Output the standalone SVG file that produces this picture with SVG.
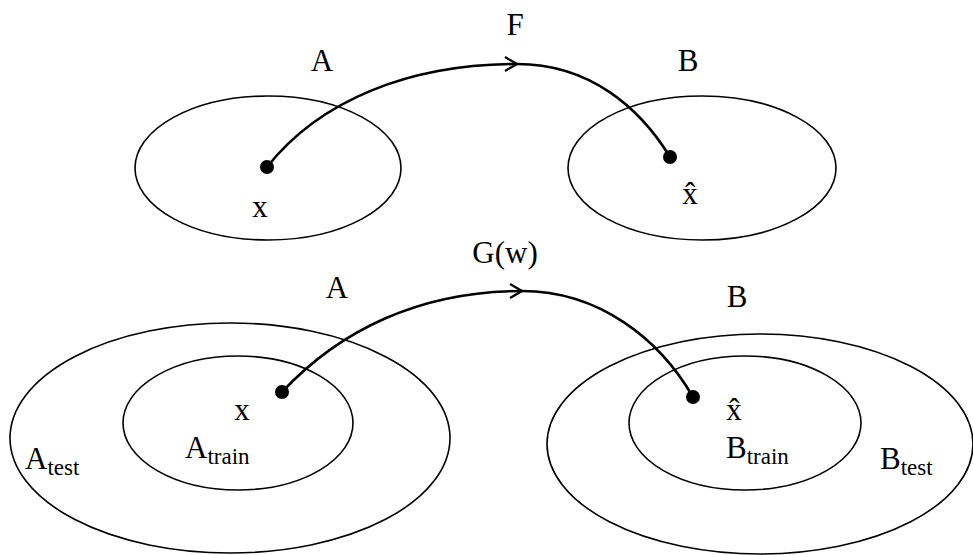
<svg xmlns="http://www.w3.org/2000/svg" width="973" height="555" viewBox="0 0 973 555">
  <style>
    .set { fill: none; stroke: #000; stroke-width: 1.6; }
    .map { fill: none; stroke: #000; stroke-width: 2.6; }
    .pt { fill: #000; }
    text { font-family: "Liberation Serif", "DejaVu Serif", serif; font-size: 31px; fill: #000; }
    .sub { font-size: 23px; }
  </style>
  <defs>
    <marker id="chev" viewBox="0 0 14 16" refX="13" refY="8" markerWidth="14" markerHeight="16" markerUnits="userSpaceOnUse" orient="auto">
      <path d="M1,1 L13,8 L1,15" fill="none" stroke="#000" stroke-width="2.2"/>
    </marker>
  </defs>

  <!-- top: plain mapping F from A to B -->
  <g id="setA-top">
    <ellipse class="set" cx="268" cy="168" rx="133" ry="72"/>
    <text x="322" y="71" text-anchor="middle">A</text>
  </g>
  <g id="setB-top">
    <ellipse class="set" cx="702" cy="168" rx="134" ry="72"/>
    <text x="688" y="71" text-anchor="middle">B</text>
  </g>
  <g id="x-top">
    <circle class="pt" cx="267" cy="167" r="7"/>
    <text x="260" y="217" text-anchor="middle">x</text>
  </g>
  <g id="xhat-top">
    <circle class="pt" cx="670" cy="157" r="7"/>
    <text x="690" y="204" text-anchor="middle">x̂</text>
  </g>

  <!-- bottom: learned mapping G(w) with train/test subsets -->
  <g id="setA-bottom">
    <ellipse class="set" cx="230" cy="438" rx="220" ry="115"/>
    <text x="337" y="298" text-anchor="middle">A</text>
    <text x="25" y="469">A<tspan class="sub" dy="6">test</tspan></text>
  </g>
  <g id="setA-train">
    <ellipse class="set" cx="238" cy="423" rx="115" ry="67"/>
    <text x="185" y="458">A<tspan class="sub" dy="6">train</tspan></text>
  </g>
  <g id="setB-bottom">
    <ellipse class="set" cx="760" cy="444" rx="213" ry="110"/>
    <text x="737" y="307" text-anchor="middle">B</text>
    <text x="880" y="469">B<tspan class="sub" dy="6">test</tspan></text>
  </g>
  <g id="setB-train">
    <ellipse class="set" cx="745" cy="423" rx="116" ry="67"/>
    <text x="726" y="458">B<tspan class="sub" dy="6">train</tspan></text>
  </g>
  <g id="x-bottom">
    <circle class="pt" cx="282" cy="392" r="7"/>
    <text x="242" y="420" text-anchor="middle">x</text>
  </g>
  <g id="xhat-bottom">
    <circle class="pt" cx="693" cy="397" r="7"/>
    <text x="734" y="420" text-anchor="middle">x̂</text>
  </g>

  <!-- mappings -->
  <g id="connectors">
    <path class="map" d="M267,167 C320,100 410,64 517,64" marker-end="url(#chev)"/>
    <path class="map" d="M517,64 C590,64 640,108 670,157"/>
    <text x="515" y="35" text-anchor="middle">F</text>

    <path class="map" d="M282,392 C340,330 420,291 522,291" marker-end="url(#chev)"/>
    <path class="map" d="M522,291 C600,291 660,340 693,397"/>
    <text x="505" y="263" text-anchor="middle">G(w)</text>
  </g>
</svg>
